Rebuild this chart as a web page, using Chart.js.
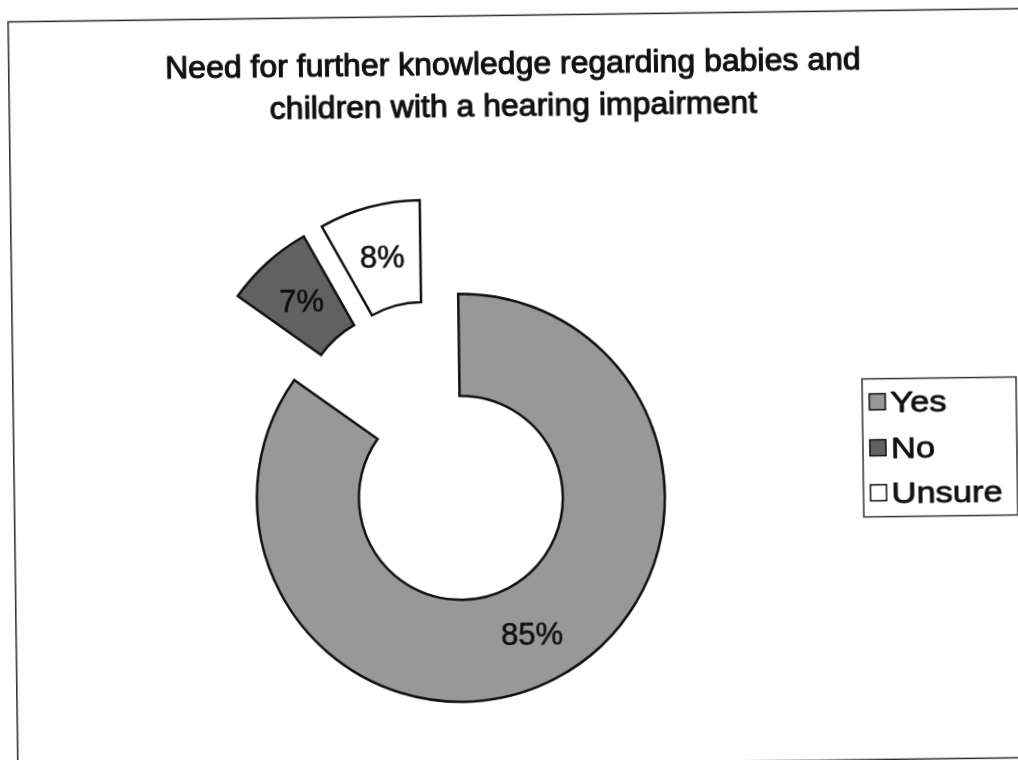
<!DOCTYPE html>
<html>
<head>
<meta charset="utf-8">
<title>Need for further knowledge</title>
<script src="https://cdn.jsdelivr.net/npm/chart.js@4.4.1/dist/chart.umd.min.js"></script>
<style>
  html, body { margin: 0; padding: 0; background: #fff; width: 1018px; height: 760px; overflow: hidden; }
  /* the sheet sits slightly askew on the page */
  #sheet { position: absolute; left: -30px; top: -30px; width: 1078px; height: 820px;
           transform-origin: 539px 410px; transform: rotate(-0.75deg); }
  canvas { display: block; }
</style>
</head>
<body>
<div id="sheet"><canvas id="chart" width="1078" height="820"></canvas></div>
<script>
// ---- data ----
const categories = ['Yes', 'No', 'Unsure'];
const shares = [85, 7, 8];
const titleLines = ['Need for further knowledge regarding babies and',
                    'children with a hearing impairment'];

// ---- styles ----
const sliceColors = ['#989898', '#616161', '#ffffff'];
const explodeBy = [58, 44, 44];          // pull-out distance of each slice, px
const FONT = '"Liberation Sans", Arial, Helvetica, sans-serif';
const INK = '#111111';

// fill + thin outline so printed text keeps its weight
function inkText(ctx, txt, x, y, weight) {
  ctx.fillText(txt, x, y);
  ctx.lineWidth = weight;
  ctx.strokeStyle = INK;
  ctx.lineJoin = 'round';
  ctx.strokeText(txt, x, y);
}

// page frame around the chart
const framePlugin = {
  id: 'frame',
  beforeDraw(chart) {
    const ctx = chart.ctx;
    ctx.save();
    ctx.fillStyle = '#ffffff';
    ctx.fillRect(0, 0, chart.width, chart.height);
    ctx.strokeStyle = '#2a2a2a';
    ctx.lineWidth = 1.5;
    ctx.strokeRect(42.8, 45.4, 1017, 749);
    ctx.restore();
  }
};

// draws every arc pulled out along its own bisector
const explodePlugin = {
  id: 'explode',
  beforeDatasetDraw(chart, args) {
    const ctx = chart.ctx;
    args.meta.data.forEach((arc, i) => {
      const mid = (arc.startAngle + arc.endAngle) / 2;
      const d = explodeBy[i] || 0;
      ctx.save();
      ctx.translate(Math.cos(mid) * d, Math.sin(mid) * d);
      arc.draw(ctx);
      ctx.restore();
    });
    return false;
  }
};

// percentage labels in the middle of each ring segment
const valueLabelPlugin = {
  id: 'valueLabels',
  afterDatasetsDraw(chart) {
    const ctx = chart.ctx;
    const meta = chart.getDatasetMeta(0);
    const values = chart.data.datasets[0].data;
    const total = values.reduce((a, b) => a + b, 0);
    const size = 31;
    ctx.save();
    ctx.font = size + 'px ' + FONT;
    ctx.fillStyle = INK;
    ctx.textAlign = 'center';
    ctx.textBaseline = 'alphabetic';
    meta.data.forEach((arc, i) => {
      const mid = (arc.startAngle + arc.endAngle) / 2;
      const d = explodeBy[i] || 0;
      const r = (arc.innerRadius + arc.outerRadius) / 2;
      const x = arc.x + Math.cos(mid) * (r + d);
      const y = arc.y + Math.sin(mid) * (r + d);
      const txt = Math.round(values[i] / total * 100) + '%';
      inkText(ctx, txt, x, y + size * 0.716 / 2, 0.6);
    });
    ctx.restore();
  }
};

// two-line centred heading
const headingPlugin = {
  id: 'heading',
  afterDraw(chart) {
    const ctx = chart.ctx;
    ctx.save();
    ctx.font = '32px ' + FONT;
    ctx.fillStyle = INK;
    ctx.textAlign = 'center';
    ctx.textBaseline = 'alphabetic';
    const cx = 547;
    const base = [104, 146];
    titleLines.forEach((line, i) => inkText(ctx, line, cx, base[i], 1.1));
    ctx.restore();
  }
};

// boxed key at the right
const keyPlugin = {
  id: 'key',
  afterDraw(chart) {
    const ctx = chart.ctx;
    const ds = chart.data.datasets[0];
    const box = { left: 892, top: 413.6, right: 1046, bottom: 551.6 };
    const rowY = [436.6, 482.6, 527.6];
    ctx.save();
    ctx.fillStyle = '#ffffff';
    ctx.fillRect(box.left, box.top, box.right - box.left, box.bottom - box.top);
    ctx.strokeStyle = '#333333';
    ctx.lineWidth = 1.5;
    ctx.strokeRect(box.left, box.top, box.right - box.left, box.bottom - box.top);
    const fs = 30;
    ctx.font = fs + 'px ' + FONT;
    ctx.textBaseline = 'alphabetic';
    ctx.textAlign = 'left';
    chart.data.labels.forEach((label, i) => {
      const cy = rowY[i];
      ctx.fillStyle = ds.backgroundColor[i];
      ctx.fillRect(899, cy - 8, 16, 16);
      ctx.strokeStyle = '#111111';
      ctx.lineWidth = 1.5;
      ctx.strokeRect(899, cy - 8, 16, 16);
      ctx.save();
      ctx.translate(920, cy + fs * 0.716 / 2);
      ctx.scale(1.15, 1);
      ctx.fillStyle = INK;
      inkText(ctx, label, 0, 0, 0.8);
      ctx.restore();
    });
    ctx.restore();
  }
};

new Chart(document.getElementById('chart'), {
  type: 'doughnut',
  data: {
    labels: categories,
    datasets: [{
      data: shares,
      backgroundColor: sliceColors,
      borderColor: '#111111',
      borderWidth: 2.5,
      borderJoinStyle: 'miter'
    }]
  },
  options: {
    responsive: false,
    animation: false,
    devicePixelRatio: 1,
    events: [],
    radius: 204,
    cutout: '50%',
    rotation: 0,
    layout: { padding: { left: 0, right: 152, top: 131, bottom: 0 } },
    plugins: {
      legend: { display: false },
      title: { display: false },
      tooltip: { enabled: false }
    }
  },
  plugins: [framePlugin, explodePlugin, valueLabelPlugin, headingPlugin, keyPlugin]
});
</script>
</body>
</html>
